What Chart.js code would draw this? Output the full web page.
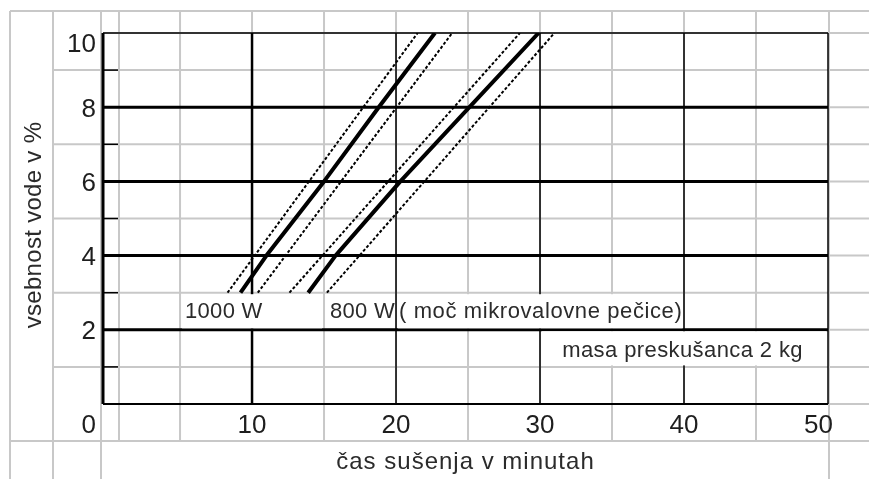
<!DOCTYPE html>
<html><head><meta charset="utf-8">
<script src="https://cdn.jsdelivr.net/npm/chart.js@4/dist/chart.umd.min.js"></script>
<style>html,body{margin:0;padding:0;background:#fff;overflow:hidden}#c{display:block}</style>
</head><body>
<canvas id="c" width="869" height="479"></canvas>
<script>
// ---- data ----
const moisture = [3, 4, 6, 8, 10];                 // vsebnost vode v %
const time1000 = [9.2, 11.0, 15.0, 18.8, 22.7];    // minutes, 1000 W centre line
const time800  = [13.9, 15.8, 20.3, 25.1, 29.9];   // minutes, 800 W centre line
const bandY = [3, 10];
const band1000Low  = [8.3, 21.5];
const band1000High = [10.4, 23.9];
const band800Low   = [12.6, 28.6];
const band800High  = [15.2, 31.0];
const xTickValues = [10, 20, 30, 40, 50];
const yTickValues = [0, 2, 4, 6, 8, 10];
const yMinorValues = [1, 3, 5, 7, 9];
const xTitle = 'čas sušenja v minutah';
const yTitle = 'vsebnost vode v %';
const note1000 = '1000 W';
const note800 = '800 W';
const notePower = '( moč mikrovalovne pečice)';
const noteMass = 'masa preskušanca 2 kg';

const pts = (xs, ys) => xs.map((v, i) => ({x: v, y: ys[i]}));
const FONT = '"Liberation Sans", Arial, sans-serif';

const sheetPlugin = {
  id: 'sheet',
  beforeDatasetsDraw(chart) {
    const {ctx, chartArea: a, scales: {x, y}} = chart;
    const W = chart.width, H = chart.height;
    const rowPx = v => y.getPixelForValue(v);
    const colPx = v => x.getPixelForValue(v);
    const topPx = 11, leftPx = 10;
    const labelRowBottom = rowPx(-1);
    const L = (x1, y1, x2, y2) => { ctx.beginPath(); ctx.moveTo(x1, y1); ctx.lineTo(x2, y2); ctx.stroke(); };
    ctx.save();
    // spreadsheet grey cell lines
    ctx.strokeStyle = '#c8c8c8'; ctx.lineWidth = 2;
    L(leftPx, topPx, W, topPx);
    L(leftPx, labelRowBottom, W, labelRowBottom);
    for (let v = 0; v <= 10; v++) L(v % 2 ? 53 : a.left, rowPx(v), W, rowPx(v));
    [leftPx, 53, 101].forEach(px => L(px, topPx, px, H));
    L(119, topPx, 119, labelRowBottom);
    for (let v = 5; v <= 50; v += 5) {
      const px = colPx(v) + (v === 50 ? 1 : 0);
      const bottom = v === 50 ? H : (v % 10 ? labelRowBottom : a.bottom);
      L(px, topPx, px, bottom);
    }
    // black chart grid
    ctx.strokeStyle = '#000';
    yTickValues.forEach(v => {
      ctx.lineWidth = v === 0 ? 2 : (v === 10 ? 1.5 : 3);
      L(a.left, rowPx(v), a.right, rowPx(v));
    });
    ctx.lineWidth = 1.5;
    yMinorValues.forEach(v => L(a.left, rowPx(v), a.left + 15, rowPx(v)));
    xTickValues.forEach(v => {
      ctx.lineWidth = v === 10 ? 2.5 : 1.5;
      L(colPx(v), a.top, colPx(v), a.bottom);
    });
    ctx.lineWidth = 3;
    L(a.left, a.top, a.left, a.bottom);
    ctx.restore();
  },
  afterDatasetsDraw(chart) {
    const {ctx, chartArea: a, scales: {x, y}} = chart;
    const rowPx = v => y.getPixelForValue(v);
    const colPx = v => x.getPixelForValue(v);
    ctx.save();
    // white text cells (cover grid lines like spreadsheet overflow text)
    ctx.fillStyle = '#fff';
    const r2t = rowPx(3) + 1.5, r2b = rowPx(2) - 1.5;
    ctx.fillRect(colPx(5) + 2, r2t, colPx(15) - colPx(5) - 4, r2b - r2t);
    ctx.fillRect(colPx(20) + 2, r2t, colPx(40) - colPx(20) - 3.5, r2b - r2t);
    const r1t = rowPx(2) + 1.5, r1b = rowPx(1) - 1.5;
    ctx.fillRect(colPx(30) + 2, r1t, a.right - 1.5 - colPx(30) - 2, r1b - r1t);
    // notes
    ctx.fillStyle = '#2b2b2b';
    ctx.font = '22px ' + FONT;
    ctx.textBaseline = 'alphabetic';
    ctx.textAlign = 'left';
    ctx.letterSpacing = '0.3px';
    ctx.fillText(note1000, colPx(5) + 5, rowPx(2) - 12);
    ctx.fillText(note800, colPx(15) + 6, rowPx(2) - 12);
    ctx.letterSpacing = '0.6px';
    ctx.fillText(notePower, colPx(20) + 3, rowPx(2) - 12);
    ctx.textAlign = 'right';
    ctx.letterSpacing = '0.4px';
    ctx.fillText(noteMass, a.right - 25, rowPx(1) - 10);
    ctx.letterSpacing = '0px';
    // tick labels
    ctx.fillStyle = '#1e1e1e';
    ctx.font = '26px ' + FONT;
    const tickBase = rowPx(-1) - 8;
    ctx.textAlign = 'center';
    xTickValues.forEach(v => {
      const s = String(v), w = ctx.measureText(s).width;
      const cx = Math.min(colPx(v), a.right + 5 - w / 2);
      ctx.fillText(s, cx, tickBase);
    });
    ctx.textAlign = 'right';
    yTickValues.forEach(v => {
      const base = v === 0 ? tickBase : Math.max(rowPx(v) + 9.5, a.top + 19);
      ctx.fillText(String(v), a.left - 7, base);
    });
    // axis titles
    ctx.fillStyle = '#2b2b2b';
    ctx.font = '24px ' + FONT;
    ctx.textAlign = 'center';
    ctx.letterSpacing = '1px';
    ctx.fillText(xTitle, (a.left + a.right) / 2, rowPx(-1) + 28);
    ctx.letterSpacing = '0.3px';
    ctx.translate(41, 225);
    ctx.rotate(-Math.PI / 2);
    ctx.fillText(yTitle, 0, 0);
    ctx.restore();
  }
};

const solid = (data) => ({data, showLine: true, borderColor: '#000', borderWidth: 4, pointRadius: 0, borderCapStyle: 'butt', borderJoinStyle: 'round', tension: 0});
const dashed = (data) => ({data, showLine: true, borderColor: '#000', borderWidth: 2, borderDash: [3, 2], pointRadius: 0, borderCapStyle: 'butt', tension: 0});

new Chart(document.getElementById('c'), {
  type: 'scatter',
  data: {
    datasets: [
      solid(pts(time1000, moisture)),
      dashed(pts(band1000Low, bandY)),
      dashed(pts(band1000High, bandY)),
      solid(pts(time800, moisture)),
      dashed(pts(band800Low, bandY)),
      dashed(pts(band800High, bandY))
    ]
  },
  options: {
    responsive: false, animation: false, devicePixelRatio: 1, events: [],
    layout: {padding: {left: 103, right: 41, top: 33, bottom: 75}},
    scales: {
      x: {type: 'linear', min: -0.35, max: 50, display: false},
      y: {type: 'linear', min: 0, max: 10, display: false}
    },
    plugins: {legend: {display: false}, tooltip: {enabled: false}}
  },
  plugins: [sheetPlugin]
});
</script>
</body></html>
